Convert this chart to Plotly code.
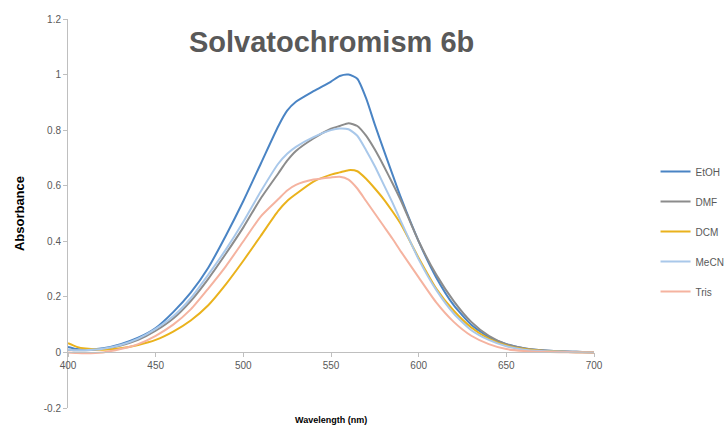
import plotly.graph_objects as go

# Wavelength grid (nm)
wavelength = [400, 405, 410, 420, 430, 440, 450, 460, 470, 480, 490, 500, 510, 520,
              525, 530, 540, 550, 555, 560, 565, 570, 575, 580, 585, 590, 600, 610,
              620, 630, 640, 650, 660, 670, 680, 690, 700]

# Absorbance spectra per solvent
etoh = [0.020, 0.012, 0.010, 0.015, 0.030, 0.053, 0.088, 0.145, 0.215, 0.305, 0.420, 0.545,
        0.680, 0.815, 0.870, 0.902, 0.940, 0.975, 0.995, 1.000, 0.985, 0.915, 0.820, 0.730,
        0.642, 0.555, 0.400, 0.270, 0.170, 0.100, 0.055, 0.030, 0.015, 0.008, 0.004, 0.002, 0.000]
dmf = [0.010, 0.008, 0.008, 0.012, 0.025, 0.045, 0.078, 0.122, 0.185, 0.265, 0.355, 0.450,
       0.555, 0.645, 0.690, 0.725, 0.770, 0.805, 0.815, 0.825, 0.815, 0.780, 0.730, 0.672,
       0.610, 0.545, 0.400, 0.280, 0.185, 0.110, 0.060, 0.030, 0.015, 0.008, 0.004, 0.002, 0.000]
dcm = [0.033, 0.020, 0.014, 0.010, 0.015, 0.027, 0.045, 0.075, 0.115, 0.170, 0.245, 0.330,
       0.420, 0.510, 0.545, 0.570, 0.615, 0.640, 0.648, 0.656, 0.652, 0.625, 0.590, 0.552,
       0.508, 0.460, 0.340, 0.230, 0.150, 0.090, 0.050, 0.025, 0.012, 0.006, 0.003, 0.001, 0.000]
mecn = [0.010, 0.008, 0.008, 0.013, 0.027, 0.050, 0.085, 0.130, 0.195, 0.280, 0.370, 0.470,
        0.580, 0.680, 0.715, 0.740, 0.775, 0.800, 0.806, 0.803, 0.780, 0.728, 0.670, 0.605,
        0.540, 0.470, 0.335, 0.225, 0.140, 0.080, 0.045, 0.022, 0.010, 0.005, 0.003, 0.001, 0.000]
tris = [0.000, -0.002, -0.003, 0.000, 0.012, 0.030, 0.060, 0.100, 0.155, 0.230, 0.310, 0.400,
        0.490, 0.552, 0.583, 0.603, 0.622, 0.630, 0.632, 0.622, 0.590, 0.545, 0.500, 0.455,
        0.410, 0.362, 0.270, 0.180, 0.110, 0.060, 0.030, 0.012, 0.005, 0.002, 0.001, 0.000, 0.000]

series_names = ["EtOH", "DMF", "DCM", "MeCN", "Tris"]
series_values = [etoh, dmf, dcm, mecn, tris]
series_colors = ["#4a84c4", "#8c8c8c", "#eab21c", "#a9c8ea", "#f5b3a0"]

x_ticks = [400, 450, 500, 550, 600, 650, 700]
y_ticks = [-0.2, 0, 0.2, 0.4, 0.6, 0.8, 1, 1.2]
y_tick_text = ["-0.2", "0", "0.2", "0.4", "0.6", "0.8", "1", "1.2"]

fig = go.Figure()
for name, vals, col in zip(series_names, series_values, series_colors):
    fig.add_trace(go.Scatter(
        x=wavelength, y=vals, name=name, mode="lines",
        line=dict(color=col, width=2, shape="spline", smoothing=0.6),
        legendgroup=name,
    ))

axis_grey = "#bfbfbf"
font_family = "Liberation Sans, Arial, sans-serif"
tick_font = dict(family=font_family, size=10, color="#595959")

fig.update_layout(
    width=727, height=428,
    margin=dict(l=68, r=133, t=19, b=20, autoexpand=False),
    paper_bgcolor="white", plot_bgcolor="white",
    showlegend=True,
    legend=dict(
        x=1.117, y=0.645, xanchor="left", yanchor="top",
        font=dict(family=font_family, size=10, color="#595959"),
        traceorder="grouped", tracegroupgap=11,
        bgcolor="rgba(0,0,0,0)", borderwidth=0,
    ),
    xaxis=dict(
        range=[400, 700], tickvals=x_ticks, ticks="outside", ticklen=4,
        tickcolor=axis_grey, showline=True, linecolor=axis_grey, linewidth=1,
        showgrid=False, zeroline=False, anchor="free", position=0.2 / 1.4,
        tickfont=tick_font,
    ),
    yaxis=dict(
        range=[-0.2, 1.2], tickvals=y_ticks, ticktext=y_tick_text, ticks="outside",
        ticklen=4, tickcolor=axis_grey, showline=True, linecolor=axis_grey,
        linewidth=1, showgrid=False, zeroline=False, tickfont=tick_font,
    ),
    annotations=[
        dict(text="<b>Solvatochromism 6b</b>", xref="paper", yref="paper",
             x=0.5, y=0.94, xanchor="center", yanchor="middle", showarrow=False,
             font=dict(family=font_family, size=29, color="#595959")),
        dict(text="<b>Absorbance</b>", xref="paper", yref="paper",
             x=-0.092, y=0.5, xanchor="center", yanchor="middle", showarrow=False,
             textangle=-90,
             font=dict(family=font_family, size=13, color="#000000")),
        dict(text="<b>Wavelength (nm)</b>", xref="paper", yref="paper",
             x=0.5, y=-0.03, xanchor="center", yanchor="middle", showarrow=False,
             font=dict(family=font_family, size=9, color="#000000")),
    ],
)

fig.write_html("out.html")
